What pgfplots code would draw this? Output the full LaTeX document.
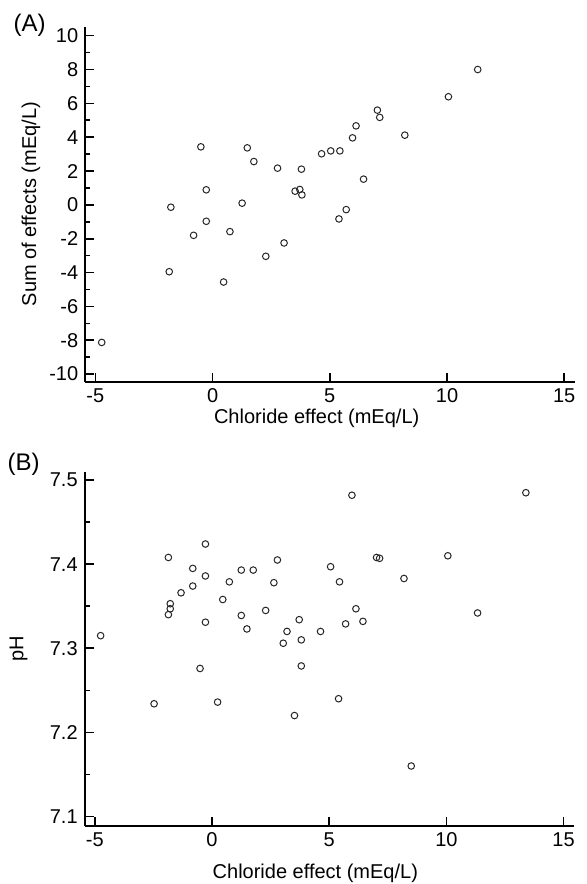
\documentclass[border=0pt]{standalone}
\usepackage{fontspec}
\setmainfont{Liberation Sans}
\usepackage{pgfplots}
\pgfplotsset{compat=1.18}
\begin{document}
\begin{tikzpicture}
\path[use as bounding box] (0,0) rectangle (293pt,442pt);
\pgfplotsset{
 myax/.style={
  scale only axis, width=244.85pt,
  axis lines=left, axis line style={-, line width=1.1pt, black},
  tick align=inside, major tick length=4.5pt, minor tick length=2.5pt,
  every tick/.style={line width=0.8pt, black},
  xmin=-5.43, xmax=15.46, xtick={-5,0,5,10,15},
  minor y tick num=1,
  tick label style={font=\fontsize{10}{12}\selectfont},
  label style={font=\fontsize{10}{12}\selectfont},
  /pgf/number format/assume math mode=true,
  clip=false,
 },
 mymark/.style={only marks, mark=o, mark size=1.65pt, mark options={line width=0.5pt, draw=black!85}},
}
\begin{axis}[myax, at={(42.65pt,251.15pt)}, anchor=south west, height=177.5pt,
 ymin=-10.45, ymax=10.53, ytick={-10,-8,...,10},
 xlabel={Chloride effect (mEq/L)}, ylabel={Sum of effects (mEq/L)},
 xlabel style={at={(axis description cs:0.4725,-0.103)}, anchor=center},
 ylabel style={at={(axis description cs:-0.111,0.5)}, anchor=center}]
\addplot[mymark] coordinates {
(-4.73,-8.13) (-1.78,-0.14) (-1.85,-3.95) (-0.81,-1.8) (-0.27,-0.97) (0.74,-1.58)
(0.47,-4.56) (1.26,0.1) (2.27,-3.04) (3.05,-2.25) (-0.5,3.43) (-0.27,0.89)
(1.48,3.37) (1.76,2.56) (2.77,2.17) (3.52,0.81) (3.72,0.91) (3.81,0.59)
(3.79,2.11) (4.65,3.02) (5.04,3.19) (5.43,3.19) (5.97,3.96) (6.12,4.67)
(7.03,5.6) (7.13,5.17) (8.2,4.12) (10.06,6.39) (11.31,8.0) (6.44,1.52)
(5.7,-0.28) (5.39,-0.83)
};
\end{axis}
\begin{axis}[myax, at={(42.35pt,29.15pt)}, anchor=south west, height=177pt,
 ymin=7.089, ymax=7.51, ytick={7.1,7.2,7.3,7.4,7.5},
 yticklabel style={/pgf/number format/fixed, /pgf/number format/precision=1, /pgf/number format/fixed zerofill},
 xlabel={Chloride effect (mEq/L)}, ylabel={pH},
 xlabel style={at={(axis description cs:0.471,-0.134)}, anchor=center},
 ylabel style={at={(axis description cs:-0.135,0.5)}, anchor=center}]
\addplot[mymark] coordinates {
(-4.75,7.315) (-1.86,7.408) (-0.82,7.395) (-0.28,7.424) (-0.28,7.386) (-1.32,7.366)
(-0.82,7.374) (-1.78,7.353) (-1.78,7.347) (-1.86,7.34) (-0.28,7.331) (0.46,7.358)
(0.74,7.379) (1.25,7.393) (1.76,7.393) (1.25,7.339) (1.49,7.323) (2.29,7.345)
(2.64,7.378) (2.79,7.405) (3.2,7.32) (3.04,7.306) (3.72,7.334) (3.81,7.31)
(5.97,7.482) (13.39,7.485) (7.02,7.408) (7.15,7.407) (10.06,7.41) (5.06,7.397)
(5.44,7.379) (8.19,7.383) (6.14,7.347) (5.7,7.329) (6.44,7.332) (4.63,7.32)
(11.33,7.342) (-0.51,7.276) (-2.47,7.234) (0.24,7.236) (3.52,7.22) (3.81,7.279)
(5.4,7.24) (8.5,7.16)
};
\end{axis}
\node[anchor=west, inner sep=0pt, font=\fontsize{12}{14}\selectfont] at (6.65pt,429.5pt) {(A)};
\node[anchor=west, inner sep=0pt, font=\fontsize{12}{14}\selectfont] at (3.65pt,210pt) {(B)};
\end{tikzpicture}
\end{document}
